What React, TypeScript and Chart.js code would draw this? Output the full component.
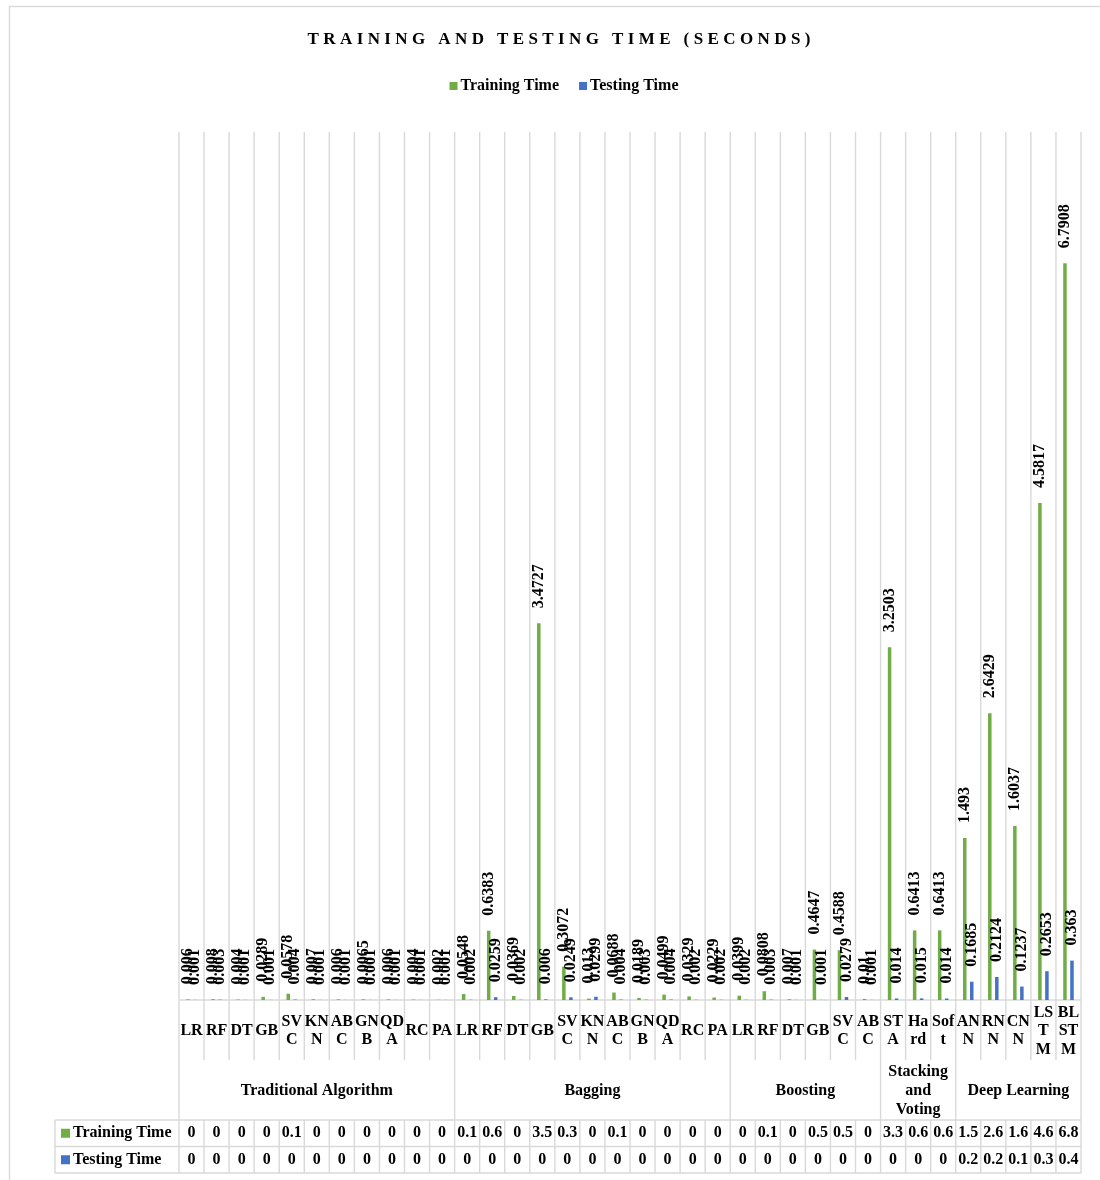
import React, { useEffect, useRef } from "react";
import { Chart, registerables } from "chart.js";

Chart.register(...registerables);

// ---- data -------------------------------------------------------------
const groupNames = [
  "Traditional Algorithm",
  "Bagging",
  "Boosting",
  "Stacking and Voting",
  "Deep Learning",
];

const traditionalModels = ["LR", "RF", "DT", "GB", "SVC", "KNN", "ABC", "GNB", "QDA", "RC", "PA"];
const baggingModels = ["LR", "RF", "DT", "GB", "SVC", "KNN", "ABC", "GNB", "QDA", "RC", "PA"];
const boostingModels = ["LR", "RF", "DT", "GB", "SVC", "ABC"];
const ensembleModels = ["STA", "Hard", "Soft"];
const deepModels = ["ANN", "RNN", "CNN", "LSTM", "BLSTM"];

const modelGroups = [traditionalModels, baggingModels, boostingModels, ensembleModels, deepModels];
const categories = modelGroups.flat();

const trainingTime = [
  // Traditional Algorithm
  0.006, 0.008, 0.004, 0.0289, 0.0578, 0.007, 0.006, 0.0065, 0.006, 0.004, 0.002,
  // Bagging
  0.0548, 0.6383, 0.0369, 3.4727, 0.3072, 0.013, 0.0688, 0.0189, 0.0499, 0.0329, 0.0229,
  // Boosting
  0.0399, 0.0808, 0.007, 0.4647, 0.4588, 0.01,
  // Stacking and Voting
  3.2503, 0.6413, 0.6413,
  // Deep Learning
  1.493, 2.6429, 1.6037, 4.5817, 6.7908,
];

const testingTime = [
  // Traditional Algorithm
  0.001, 0.003, 0.001, 0.001, 0.004, 0.001, 0.001, 0.001, 0.001, 0.001, 0.001,
  // Bagging
  0.002, 0.0259, 0.002, 0.006, 0.0249, 0.0299, 0.004, 0.003, 0.004, 0.002, 0.002,
  // Boosting
  0.002, 0.003, 0.001, 0.001, 0.0279, 0.001,
  // Stacking and Voting
  0.014, 0.015, 0.014,
  // Deep Learning
  0.1685, 0.2124, 0.1237, 0.2653, 0.363,
];

const chartTitle = "TRAINING AND TESTING TIME (SECONDS)";
const yMax = 8;

// ---- styling ----------------------------------------------------------
const FONT = '"Liberation Serif", "Times New Roman", Times, serif';
const GREEN = "#70AD47";
const BLUE = "#4472C4";
const GRID = "#D9D9D9";
const INK = "#000000";

const LABEL_GAP = 15;
const CAT_ROW = 60; // height of model-name row below the plot
const GROUP_ROW = 60; // height of group-name row
const TABLE_ROW = 26.5;
const TABLE_LEFT = 55;

function tableText(v: number): string {
  return String(Number(v.toFixed(1)));
}

// Wraps text to a width: by words first, then by characters (as spreadsheet axis labels do)
function wrap(ctx: CanvasRenderingContext2D, text: string, maxW: number): string[] {
  const lines: string[] = [];
  let cur = "";
  for (const word of text.split(" ")) {
    const trial = cur ? cur + " " + word : word;
    if (ctx.measureText(trial).width <= maxW) {
      cur = trial;
      continue;
    }
    if (cur) lines.push(cur);
    let piece = "";
    for (const ch of word) {
      if (piece && ctx.measureText(piece + ch).width > maxW) {
        lines.push(piece);
        piece = ch;
      } else {
        piece += ch;
      }
    }
    cur = piece;
  }
  if (cur) lines.push(cur);
  return lines;
}

function drawLines(ctx: CanvasRenderingContext2D, lines: string[], x: number, cy: number, lh: number) {
  lines.forEach((ln, k) => {
    ctx.fillText(ln, x, cy + (k - (lines.length - 1) / 2) * lh);
  });
}

const groupEdges: number[] = modelGroups.reduce(
  (acc: number[], g) => {
    acc.push(acc[acc.length - 1] + g.length);
    return acc;
  },
  [0]
);

const excelLayout = {
  id: "excelLayout",
  beforeDatasetsDraw(chart: any) {
    const { ctx, chartArea } = chart;
    const xs = chart.scales.x;
    const n = categories.length;
    const step = xs.getPixelForValue(1) - xs.getPixelForValue(0);
    const edge = (i: number) => xs.getPixelForValue(0) - step / 2 + i * step;
    const bottom = chartArea.bottom;
    const catBottom = bottom + CAT_ROW;
    const grpBottom = catBottom + GROUP_ROW;
    const tblBottom = grpBottom + TABLE_ROW * 2;

    ctx.save();
    ctx.strokeStyle = GRID;
    ctx.lineWidth = 1.4;

    // outer chart frame
    ctx.strokeRect(9.5, 6.5, 1300, 1300);

    ctx.beginPath();
    for (let i = 0; i <= n; i++) {
      const x = edge(i);
      if (groupEdges.includes(i)) {
        ctx.moveTo(x, chartArea.top);
        ctx.lineTo(x, tblBottom);
      } else {
        ctx.moveTo(x, chartArea.top);
        ctx.lineTo(x, catBottom);
        ctx.moveTo(x, grpBottom);
        ctx.lineTo(x, tblBottom);
      }
    }
    // category axis line
    ctx.moveTo(edge(0), bottom);
    ctx.lineTo(edge(n), bottom);
    // data table rules
    for (let r = 0; r <= 2; r++) {
      const y = grpBottom + r * TABLE_ROW;
      ctx.moveTo(TABLE_LEFT, y);
      ctx.lineTo(edge(n), y);
    }
    ctx.moveTo(TABLE_LEFT, grpBottom);
    ctx.lineTo(TABLE_LEFT, tblBottom);
    ctx.stroke();
    ctx.restore();
  },
  afterDatasetsDraw(chart: any) {
    const { ctx } = chart;
    ctx.save();
    ctx.font = `bold 16px ${FONT}`;
    ctx.fillStyle = INK;
    ctx.textAlign = "left";
    ctx.textBaseline = "middle";
    chart.data.datasets.forEach((ds: any, d: number) => {
      const meta = chart.getDatasetMeta(d);
      meta.data.forEach((bar: any, i: number) => {
        ctx.save();
        ctx.translate(bar.x, bar.y - LABEL_GAP);
        ctx.rotate(-Math.PI / 2);
        ctx.fillText(String(ds.data[i]), 0, 0);
        ctx.restore();
      });
    });
    ctx.restore();
  },
  afterDraw(chart: any) {
    const { ctx, chartArea } = chart;
    const xs = chart.scales.x;
    const n = categories.length;
    const step = xs.getPixelForValue(1) - xs.getPixelForValue(0);
    const edge = (i: number) => xs.getPixelForValue(0) - step / 2 + i * step;
    const bottom = chartArea.bottom;
    const catBottom = bottom + CAT_ROW;
    const grpBottom = catBottom + GROUP_ROW;

    ctx.save();
    ctx.fillStyle = INK;

    // title with wide letter spacing
    ctx.font = `bold 17px ${FONT}`;
    ctx.textBaseline = "middle";
    ctx.textAlign = "left";
    const spacing = 4.4;
    (ctx as any).letterSpacing = `${spacing}px`;
    const tw = ctx.measureText(chartTitle).width - spacing;
    ctx.fillText(chartTitle, 559 - tw / 2, 40);
    (ctx as any).letterSpacing = "0px";

    // legend
    ctx.font = `bold 16px ${FONT}`;
    const box = 8;
    const boxGap = 3;
    const itemGap = 20;
    const items = chart.data.datasets.map((ds: any) => ({
      label: ds.label,
      color: ds.backgroundColor,
      w: ctx.measureText(ds.label).width,
    }));
    const total =
      items.reduce((s: number, it: any) => s + box + boxGap + it.w, 0) + itemGap * (items.length - 1);
    let lx = 564 - total / 2;
    const ly = 86;
    items.forEach((it: any) => {
      ctx.fillStyle = it.color;
      ctx.fillRect(lx, ly - box / 2, box, box);
      ctx.fillStyle = INK;
      ctx.fillText(it.label, lx + box + boxGap, ly);
      lx += box + boxGap + it.w + itemGap;
    });

    // model names
    ctx.textAlign = "center";
    for (let i = 0; i < n; i++) {
      const cx = xs.getPixelForValue(i);
      const lines = wrap(ctx, categories[i], 25);
      drawLines(ctx, lines, cx, bottom + 31, 18.5);
    }

    // group names
    groupNames.forEach((g, gi) => {
      const x0 = edge(groupEdges[gi]);
      const x1 = edge(groupEdges[gi + 1]);
      const lines = wrap(ctx, g, x1 - x0 - 4);
      drawLines(ctx, lines, (x0 + x1) / 2, catBottom + 31, 19.2);
    });

    // data table
    const rows = [trainingTime, testingTime];
    rows.forEach((vals, r) => {
      const cy = grpBottom + TABLE_ROW * (r + 0.5);
      const ds = chart.data.datasets[r];
      ctx.fillStyle = ds.backgroundColor;
      ctx.fillRect(61, cy - 4.5, 9, 9);
      ctx.fillStyle = INK;
      ctx.textAlign = "left";
      ctx.fillText(ds.label, 73, cy);
      ctx.textAlign = "center";
      vals.forEach((v, i) => {
        ctx.fillText(tableText(v), xs.getPixelForValue(i), cy);
      });
    });

    ctx.restore();
  },
};

export default function App() {
  const canvasRef = useRef<HTMLCanvasElement | null>(null);

  useEffect(() => {
    const canvas = canvasRef.current;
    if (!canvas) return;
    const chart = new Chart(canvas, {
      type: "bar",
      data: {
        labels: categories,
        datasets: [
          {
            label: "Training Time",
            data: trainingTime,
            backgroundColor: GREEN,
            categoryPercentage: 0.56,
            barPercentage: 0.5,
          },
          {
            label: "Testing Time",
            data: testingTime,
            backgroundColor: BLUE,
            categoryPercentage: 0.56,
            barPercentage: 0.5,
          },
        ],
      },
      options: {
        responsive: false,
        animation: false,
        devicePixelRatio: 1,
        layout: { padding: { left: 179, right: 19, top: 132, bottom: 180 } },
        scales: {
          x: { display: false },
          y: { display: false, min: 0, max: yMax },
        },
        plugins: {
          legend: { display: false },
          title: { display: false },
          tooltip: { enabled: false },
        },
      },
      plugins: [excelLayout],
    });
    return () => chart.destroy();
  }, []);

  return (
    <div style={{ position: "absolute", left: 0, top: 0, width: 1100, height: 1180, background: "#fff" }}>
      <canvas ref={canvasRef} width={1100} height={1180} style={{ display: "block" }} />
    </div>
  );
}
